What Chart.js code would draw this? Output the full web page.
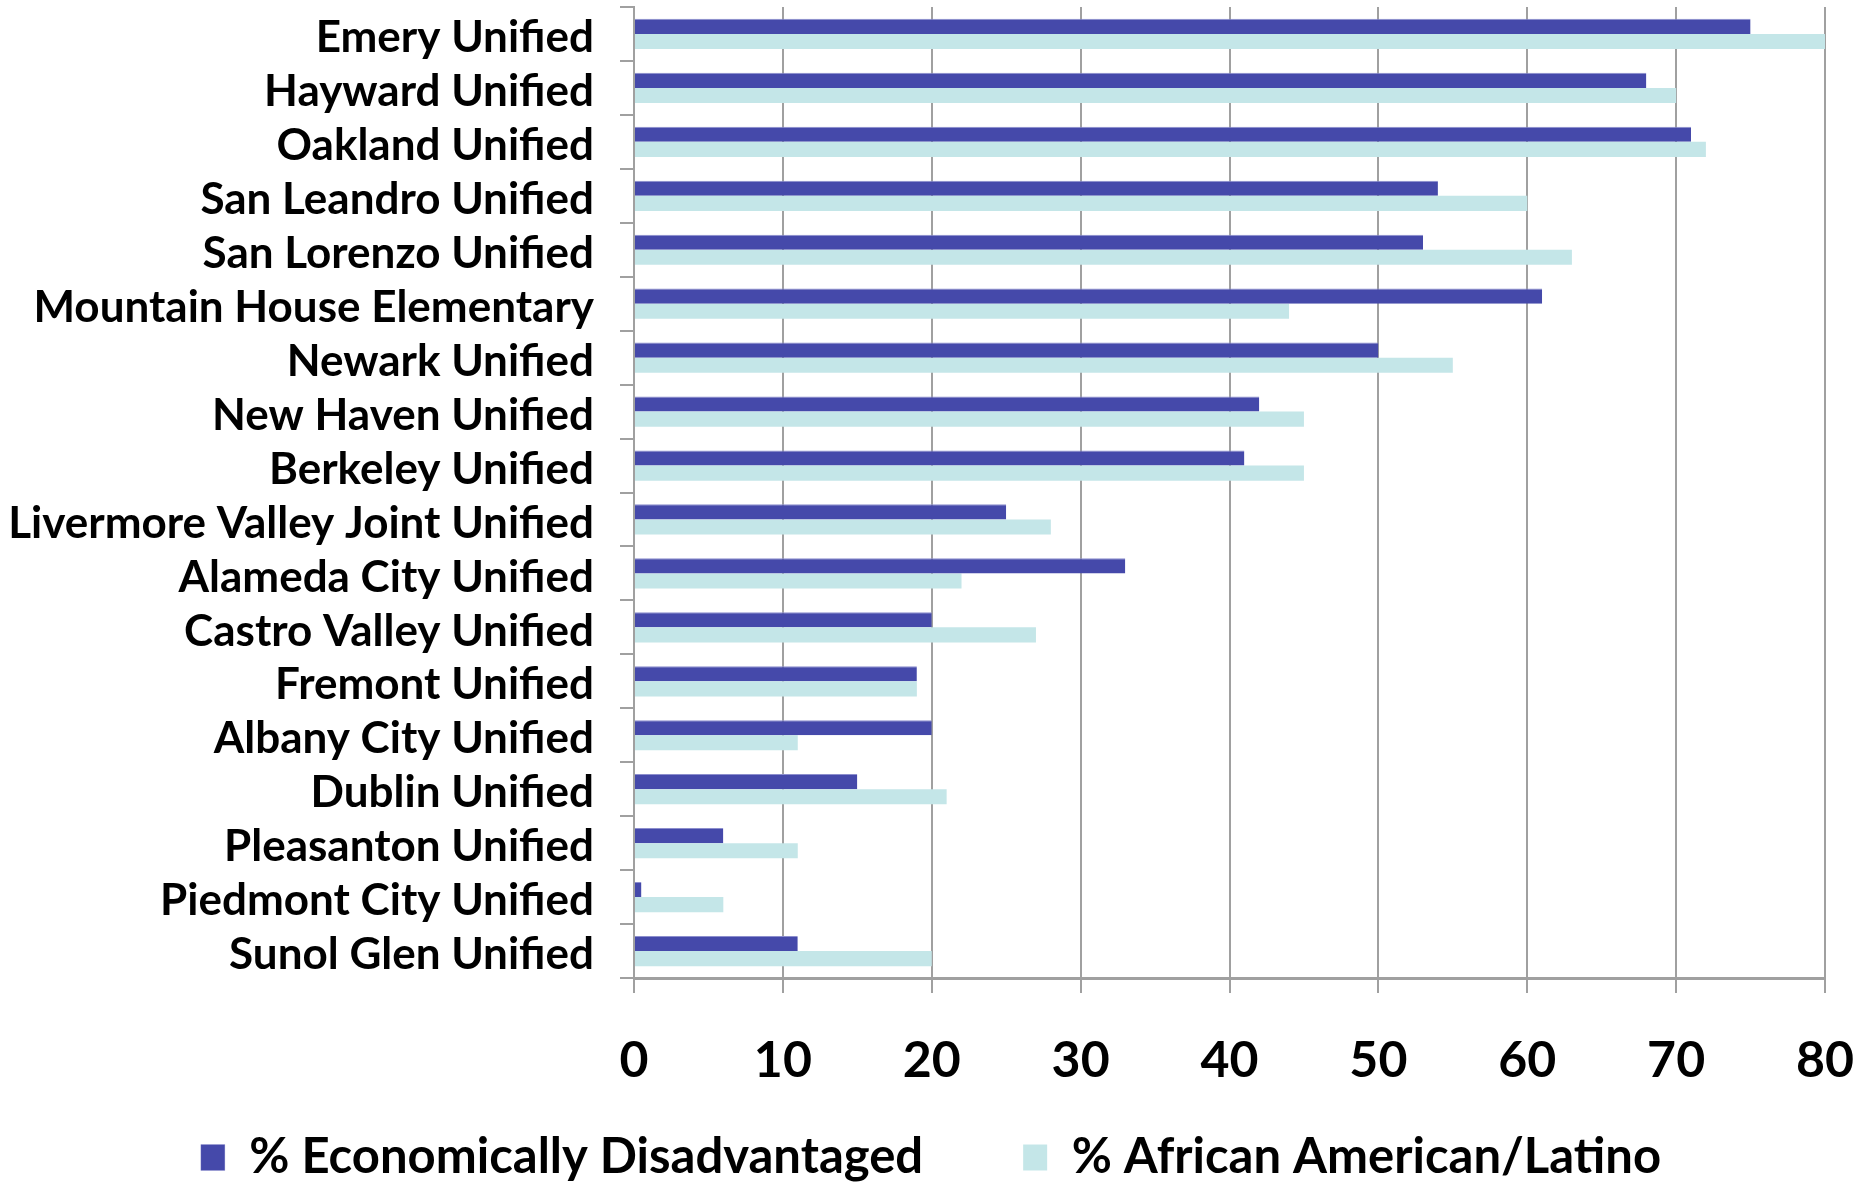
<!DOCTYPE html>
<html>
<head>
<meta charset="utf-8">
<script src="https://cdn.jsdelivr.net/npm/chart.js@4"></script>
<style>
  html, body { margin: 0; padding: 0; background: #fff; overflow: hidden; }
  #wrap { position: absolute; left: 0; top: 0; width: 1874px; height: 1200px; }
</style>
</head>
<body>
<div id="wrap"><canvas id="districtChart"></canvas></div>
<script>
var districts = ["Emery Unified", "Hayward Unified", "Oakland Unified", "San Leandro Unified",
    "San Lorenzo Unified", "Mountain House Elementary", "Newark Unified", "New Haven Unified",
    "Berkeley Unified", "Livermore Valley Joint Unified", "Alameda City Unified",
    "Castro Valley Unified", "Fremont Unified", "Albany City Unified", "Dublin Unified",
    "Pleasanton Unified", "Piedmont City Unified", "Sunol Glen Unified"];
var econDisadvantaged = [75, 68, 71, 54, 53, 61, 50, 42, 41, 25, 33, 20, 19, 20, 15, 6, 0.5, 11];
var africanAmLatino   = [80, 70, 72, 60, 63, 44, 55, 45, 45, 28, 22, 27, 19, 11, 21, 11, 6, 20];
var xTicks = [0, 10, 20, 30, 40, 50, 60, 70, 80];

var fontFam = "Lato, 'Open Sans', sans-serif";
var gridGray = '#a0a0a0';

// legend band: fixed height for layout, then nudged so the
// items sit where they are in the original
var legendPlace = {
    id: 'legendPlace',
    beforeLayout: function (chart) {
        if (chart.legend && !chart.legend._patched) {
            var fit = chart.legend.fit;
            chart.legend.fit = function () {
                fit.call(this);
                this.height = 107;
            };
            chart.legend._patched = true;
        }
    },
    afterLayout: function (chart) {
        var lg = chart.legend;
        if (!lg) return;
        lg.top = 1033;
        lg.height = lg.bottom - lg.top;
        lg.left = -6;
        lg.right = chart.width - 6;
    }
};

var districtChart = new Chart("districtChart", {
    type: 'bar',
    data: {
        labels: districts,
        datasets: [
            {
                label: '% Economically Disadvantaged',
                data: econDisadvantaged,
                backgroundColor: 'rgb(69, 73, 170)',
                borderColor: 'rgb(140, 142, 205)',
                borderWidth: { top: 1, right: 0, bottom: 0, left: 0 },
                categoryPercentage: 0.56,
                barPercentage: 1.0
            },
            {
                label: '% African American/Latino',
                data: africanAmLatino,
                backgroundColor: 'rgb(196, 230, 232)',
                categoryPercentage: 0.56,
                barPercentage: 1.0
            }
        ]
    },
    options: {
        indexAxis: 'y',
        responsive: true,
        maintainAspectRatio: false,
        animation: false,
        layout: { padding: { top: 7, right: 49, left: 0, bottom: 0 } },
        scales: {
            x: {
                min: 0,
                max: 80,
                afterBuildTicks: function (scale) {
                    scale.ticks = xTicks.map(function (v) { return { value: v }; });
                },
                afterFit: function (scale) {
                    scale.height = 115;
                    scale.paddingLeft = 0;
                    scale.paddingRight = 0;
                },
                grid: { color: gridGray, lineWidth: 2, tickLength: 15, drawTicks: true },
                border: { display: true, color: gridGray, width: 3 },
                ticks: {
                    color: '#000',
                    padding: 38,
                    font: { family: fontFam, size: 50, weight: 'bold' }
                }
            },
            y: {
                afterFit: function (scale) {
                    scale.width = 634;
                    scale.paddingTop = 0;
                    scale.paddingBottom = 0;
                },
                grid: { color: gridGray, lineWidth: 2, tickLength: 14, drawOnChartArea: false, offset: true },
                border: { display: true, color: gridGray, width: 2 },
                ticks: {
                    color: '#000',
                    padding: 26,
                    labelOffset: 4,
                    autoSkip: false,
                    font: { family: fontFam, size: 44, weight: 'bold' }
                }
            }
        },
        plugins: {
            legend: {
                position: 'bottom',
                labels: {
                    color: '#000',
                    boxWidth: 24,
                    boxHeight: 26,
                    padding: 100,
                    font: { family: fontFam, size: 49, weight: 'bold' }
                }
            },
            tooltip: { enabled: false }
        }
    },
    plugins: [legendPlace]
});
</script>
</body>
</html>
